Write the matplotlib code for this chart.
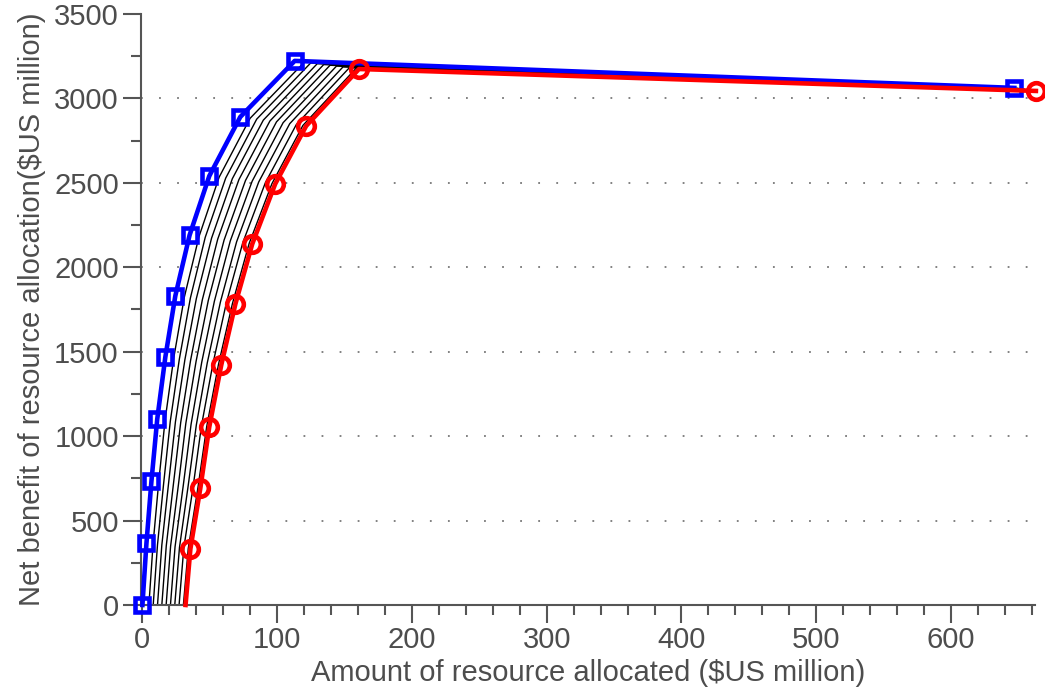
import numpy as np
import matplotlib.pyplot as plt
from matplotlib.ticker import MultipleLocator

# upper curve (blue squares) and lower curve (red circles)
blue_x = [0, 3, 6.7, 11, 17, 24.4, 35, 49.6, 72.6, 113, 647]
blue_y = [0, 367, 734, 1101, 1468, 1830, 2190, 2540, 2890, 3222, 3062]
red_x = [32, 35.6, 43, 49.6, 58.5, 69, 81.5, 98.5, 121.5, 160.7, 663]
red_y = [0, 332, 693, 1054, 1421, 1783, 2138, 2493, 2837, 3174, 3044]

# thin black curves in between
mid_x = [
    [4.8, 7.9, 12.1, 16.8, 23.2, 31.1, 42.0, 56.9, 79.9, 120.2, 649.4],
    [8.0, 11.2, 15.8, 20.7, 27.4, 35.6, 46.6, 61.8, 84.8, 124.9, 651.0],
    [11.2, 14.4, 19.4, 24.5, 31.5, 40.0, 51.3, 66.7, 89.7, 129.7, 652.6],
    [14.4, 17.7, 23.0, 28.4, 35.7, 44.5, 55.9, 71.6, 94.6, 134.5, 654.2],
    [17.6, 20.9, 26.7, 32.2, 39.8, 48.9, 60.6, 76.5, 99.5, 139.2, 655.8],
    [20.8, 24.2, 30.3, 36.1, 44.0, 53.4, 65.2, 81.4, 104.4, 144.0, 657.4],
    [24.0, 27.5, 33.9, 40.0, 48.1, 57.9, 69.9, 86.3, 109.3, 148.8, 659.0],
    [27.2, 30.7, 37.6, 43.8, 52.3, 62.3, 74.5, 91.2, 114.2, 153.5, 660.6],
    [30.4, 34.0, 41.2, 47.7, 56.4, 66.8, 79.2, 96.1, 119.1, 158.3, 662.2],
]
mid_y = [
    [0, 362, 728, 1094, 1461, 1823, 2182, 2533, 2882, 3215, 3059],
    [0, 358, 724, 1089, 1456, 1818, 2177, 2528, 2877, 3210, 3058],
    [0, 355, 720, 1085, 1452, 1814, 2172, 2524, 2871, 3205, 3056],
    [0, 351, 716, 1080, 1447, 1809, 2167, 2519, 2866, 3200, 3054],
    [0, 348, 711, 1075, 1442, 1804, 2161, 2514, 2861, 3196, 3052],
    [0, 344, 707, 1070, 1437, 1799, 2156, 2509, 2856, 3191, 3050],
    [0, 341, 703, 1066, 1433, 1795, 2151, 2505, 2850, 3186, 3049],
    [0, 337, 699, 1061, 1428, 1790, 2146, 2500, 2845, 3181, 3047],
    [0, 334, 695, 1056, 1423, 1785, 2141, 2495, 2840, 3176, 3045],
]

plt.rcParams['font.family'] = ['Liberation Sans', 'DejaVu Sans']
txt = '#4d4d4d'

fig = plt.figure(figsize=(10.45, 6.97), dpi=100)
ax = fig.add_axes([0.135, 0.132, 0.855, 0.848])

for xs, ys in zip(mid_x, mid_y):
    ax.plot(xs, ys, color='black', lw=1.0, zorder=2)

ax.plot(blue_x, blue_y, color='#0000ff', lw=3.3, marker='s', markersize=10,
        markerfacecolor='none', markeredgewidth=3.3, zorder=3, clip_on=False)
ax.plot(red_x, red_y, color='#ff0000', lw=3.3, marker='o', markersize=12,
        markerfacecolor='none', markeredgewidth=3.3, markevery=range(1, len(red_x)),
        zorder=4, clip_on=False)

ax.set_xlim(-1, 662)
ax.set_ylim(0, 3500)
ax.xaxis.set_major_locator(MultipleLocator(100))
ax.xaxis.set_minor_locator(MultipleLocator(20))
ax.yaxis.set_major_locator(MultipleLocator(500))
ax.yaxis.set_minor_locator(MultipleLocator(250))

for y in range(500, 3001, 500):
    ax.axhline(y, color='#777777', lw=1.3, ls=(0, (1, 9)), zorder=1)

for s in ['top', 'right']:
    ax.spines[s].set_visible(False)
for s in ['left', 'bottom']:
    ax.spines[s].set_color('#555555')
    ax.spines[s].set_linewidth(1.5)

ax.tick_params(which='major', direction='out', length=13, width=1.5,
               color='#555555', labelsize=21, labelcolor=txt)
ax.tick_params(which='minor', direction='out', length=7, width=1.5, color='#555555')
ax.tick_params(axis='x', pad=2)
ax.tick_params(axis='y', pad=3)

ax.set_xlabel('Amount of resource allocated ($US million)', fontsize=21,
              color=txt, labelpad=4)
ax.set_ylabel('Net benefit of resource allocation($US million)', fontsize=21,
              color=txt, labelpad=6)

fig.savefig('out.png', dpi=100)
